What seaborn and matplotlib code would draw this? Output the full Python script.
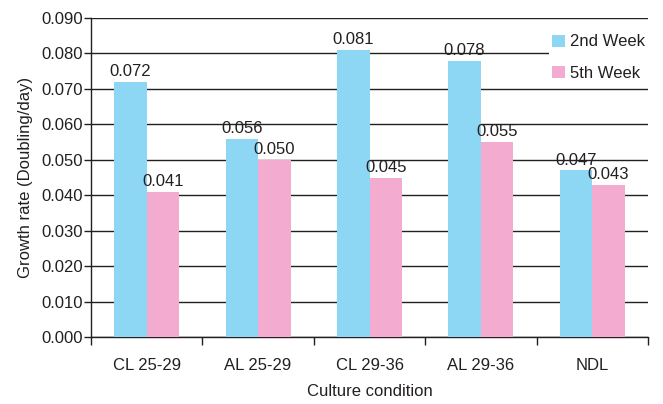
import numpy as np
import pandas as pd
import matplotlib
matplotlib.use("Agg")
import matplotlib.pyplot as plt
import seaborn as sns

conditions = ["CL 25-29", "AL 25-29", "CL 29-36", "AL 29-36", "NDL"]
week2 = [0.072, 0.056, 0.081, 0.078, 0.047]
week5 = [0.041, 0.050, 0.045, 0.055, 0.043]
series_names = ["2nd Week", "5th Week"]
colors = ["#8dd7f5", "#f3accf"]
yticks = [0.0, 0.01, 0.02, 0.03, 0.04, 0.05, 0.06, 0.07, 0.08, 0.09]

df = pd.DataFrame({
    "condition": conditions * 2,
    "rate": week2 + week5,
    "week": [series_names[0]] * 5 + [series_names[1]] * 5,
})

sns.set_style("white")
plt.rcParams["font.family"] = ["Liberation Sans", "DejaVu Sans"]
ink = "#231f20"
fs = 12

fig = plt.figure(figsize=(6.63, 4.04), dpi=100)
ax = fig.add_axes([91 / 663, 1 - 337 / 404, (648 - 91) / 663, (337 - 18) / 404])

sns.barplot(data=df, x="condition", y="rate", hue="week", palette=colors,
            width=0.585, saturation=1, linewidth=0, ax=ax, zorder=3)

for cont in ax.containers:
    ax.bar_label(cont, fmt="%.3f", padding=2, fontsize=fs, color=ink)

ax.set_ylim(0, 0.09)
ax.set_yticks(yticks)
ax.set_yticklabels([f"{v:.3f}" for v in yticks])
ax.set_xlim(-0.5, 4.5)
ax.yaxis.grid(True, color=ink, linewidth=1, zorder=0)
ax.set_axisbelow(True)

# x ticks between categories
ax.set_xticks(np.arange(-0.5, 5, 1), minor=True)
ax.tick_params(axis="x", which="minor", length=6, width=1, color=ink, direction="out", bottom=True)
ax.tick_params(axis="x", which="major", length=0, pad=15, labelsize=fs, labelcolor=ink)
ax.tick_params(axis="y", length=5, width=1, color=ink, direction="out", left=True,
               labelsize=fs, labelcolor=ink, pad=1)

for side in ["top", "right"]:
    ax.spines[side].set_visible(False)
for side in ["left", "bottom"]:
    ax.spines[side].set_color(ink)
    ax.spines[side].set_linewidth(1)

ax.set_xlabel("Culture condition", fontsize=fs, color=ink, labelpad=8)
ax.set_ylabel("Growth rate (Doubling/day)", fontsize=fs, color=ink, labelpad=6)

leg = ax.legend(loc="upper right", bbox_to_anchor=(1.015, 0.985), frameon=True, facecolor="white",
                edgecolor="none", framealpha=1, fontsize=fs, handlelength=0.75, handleheight=0.75,
                handletextpad=0.3, labelspacing=1.0, borderpad=0.2)
for t in leg.get_texts():
    t.set_color(ink)

fig.savefig("out.png", dpi=100)
